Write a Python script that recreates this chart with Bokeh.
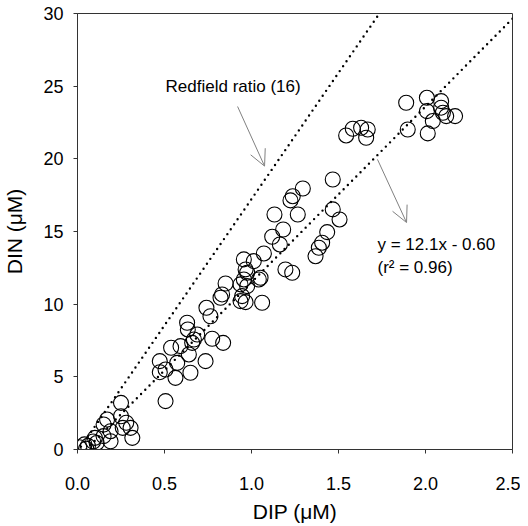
from bokeh.plotting import figure
from bokeh.models import Arrow, OpenHead, Label, FixedTicker, Range1d
from bokeh.embed import file_html
from bokeh.resources import INLINE

# ---- data ----
dip = [0.01, 0.04, 0.05, 0.06, 0.09, 0.10, 0.11, 0.15, 0.19, 0.15, 0.17, 0.19,
       0.25, 0.25, 0.28, 0.305, 0.315, 0.26,
       0.506, 0.473, 0.473, 0.506, 0.563, 0.573, 0.538, 0.592, 0.64, 0.649,
       0.736, 0.659, 0.688, 0.63, 0.634, 0.669, 0.774, 0.837, 0.741, 0.764,
       0.822, 0.831, 0.851, 0.956, 0.966, 0.975, 0.956, 0.937, 0.975, 0.946,
       0.966, 0.937, 1.013, 1.042, 1.052, 1.061, 1.071, 1.119, 1.163, 1.182,
       1.195, 1.234, 1.368, 1.387, 1.406, 1.435,
       1.544, 1.582, 1.63, 1.659, 1.668, 1.889, 1.898, 2.008, 2.008, 2.042,
       2.013, 2.09, 2.09, 2.1, 2.119, 2.17, 1.467, 1.237, 1.295, 1.224, 1.266,
       1.467, 1.506, 1.132]
din = [0.15, 0.35, 0.05, 0.25, 0.55, 0.80, 0.45, 0.92, 0.57, 1.72, 2.06, 1.26,
       3.21, 2.29, 1.84, 1.49, 0.80, 1.49,
       3.33, 6.08, 5.32, 5.5, 4.93, 5.96, 7.0, 7.11, 6.54, 5.28,
       6.08, 7.34, 7.91, 8.72, 8.26, 7.57, 7.62, 7.34, 9.75, 9.17,
       10.44, 10.67, 11.42, 13.08, 12.39, 12.16, 11.7, 11.36, 11.24, 10.55,
       10.14, 10.21, 12.96, 11.7, 11.82, 10.1, 13.49, 14.64, 14.11, 15.14,
       12.39, 12.16, 13.3, 13.88, 14.23, 14.96,
       21.61, 22.07, 22.14, 21.45, 22.02, 23.86, 22.02, 24.2, 23.28, 22.6,
       21.75, 23.97, 23.52, 23.17, 22.94, 22.94, 18.58, 17.43, 17.96, 17.14, 16.17,
       16.52, 15.83, 16.17]

redfield_x = [0.02, 1.735]
redfield_y = [0.2, 30.0]
fit_x = [0.05, 2.5]
fit_y = [12.1 * 0.05 - 0.60, 12.1 * 2.5 - 0.60]

x_ticks = [0.0, 0.5, 1.0, 1.5, 2.0, 2.5]
x_tick_labels = ["0.0", "0.5", "1.0", "1.5", "2.0", "2.5"]
y_ticks = [0, 5, 10, 15, 20, 25, 30]
y_tick_labels = ["0", "5", "10", "15", "20", "25", "30"]

redfield_label = "Redfield ratio (16)"
fit_label1 = "y = 12.1x - 0.60"
fit_label2 = "(r\u00b2 = 0.96)"

FONT = "Liberation Sans"

p = figure(frame_width=435, frame_height=436, output_backend="svg",
           toolbar_location=None, x_range=Range1d(0, 2.5), y_range=Range1d(0, 30),
           min_border_left=69, min_border_top=13, min_border_right=8,
           min_border_bottom=10)
p.grid.visible = False
p.background_fill_color = "white"
p.border_fill_color = "white"
p.outline_line_color = "#333333"
p.outline_line_width = 1

for ax in (p.xaxis[0], p.yaxis[0]):
    ax.axis_line_color = "#333333"
    ax.major_tick_line_color = "#333333"
    ax.major_tick_in = 0
    ax.major_tick_out = 4
    ax.minor_tick_line_color = None
    ax.major_label_text_font = FONT
    ax.major_label_text_font_size = "18px"
    ax.major_label_text_color = "black"
    ax.axis_label_text_font = FONT
    ax.axis_label_text_font_size = "21px"
    ax.axis_label_text_font_style = "normal"
    ax.axis_label_text_color = "black"

p.xaxis.ticker = FixedTicker(ticks=x_ticks)
p.xaxis.major_label_overrides = dict(zip(x_ticks, x_tick_labels))
p.yaxis.ticker = FixedTicker(ticks=y_ticks)
p.yaxis.major_label_overrides = dict(zip(y_ticks, y_tick_labels))
p.xaxis.axis_label = "DIP (\u03bcM)"
p.yaxis.axis_label = "DIN (\u03bcM)"
p.xaxis.major_label_standoff = 23
p.xaxis.axis_label_standoff = 7
p.yaxis.major_label_standoff = 10
p.yaxis.axis_label_standoff = 14

p.line(redfield_x, redfield_y, line_color="black", line_width=2.4,
       line_dash="0 6", line_cap="round")
p.line(fit_x, fit_y, line_color="black", line_width=2.4,
       line_dash="0 6", line_cap="round")

p.scatter(dip, din, size=15, marker="circle", fill_alpha=0,
          line_color="black", line_width=1.1)

p.add_layout(Arrow(end=OpenHead(size=16, line_color="#808080", line_width=1),
                   x_start=0.920, y_start=23.6, x_end=1.075, y_end=19.5,
                   line_color="#808080", line_width=1))
p.add_layout(Arrow(end=OpenHead(size=16, line_color="#808080", line_width=1),
                   x_start=1.724, y_start=19.96, x_end=1.891, y_end=15.62,
                   line_color="#808080", line_width=1))

for txt, x, y in [(redfield_label, 0.506, 24.98), (fit_label1, 1.724, 14.11),
                  (fit_label2, 1.724, 12.5)]:
    p.add_layout(Label(x=x, y=y, text=txt, text_font=FONT, text_font_size="17px",
                       text_baseline="middle", text_align="left", text_color="black"))

open("out.html", "w").write(file_html(p, INLINE))
